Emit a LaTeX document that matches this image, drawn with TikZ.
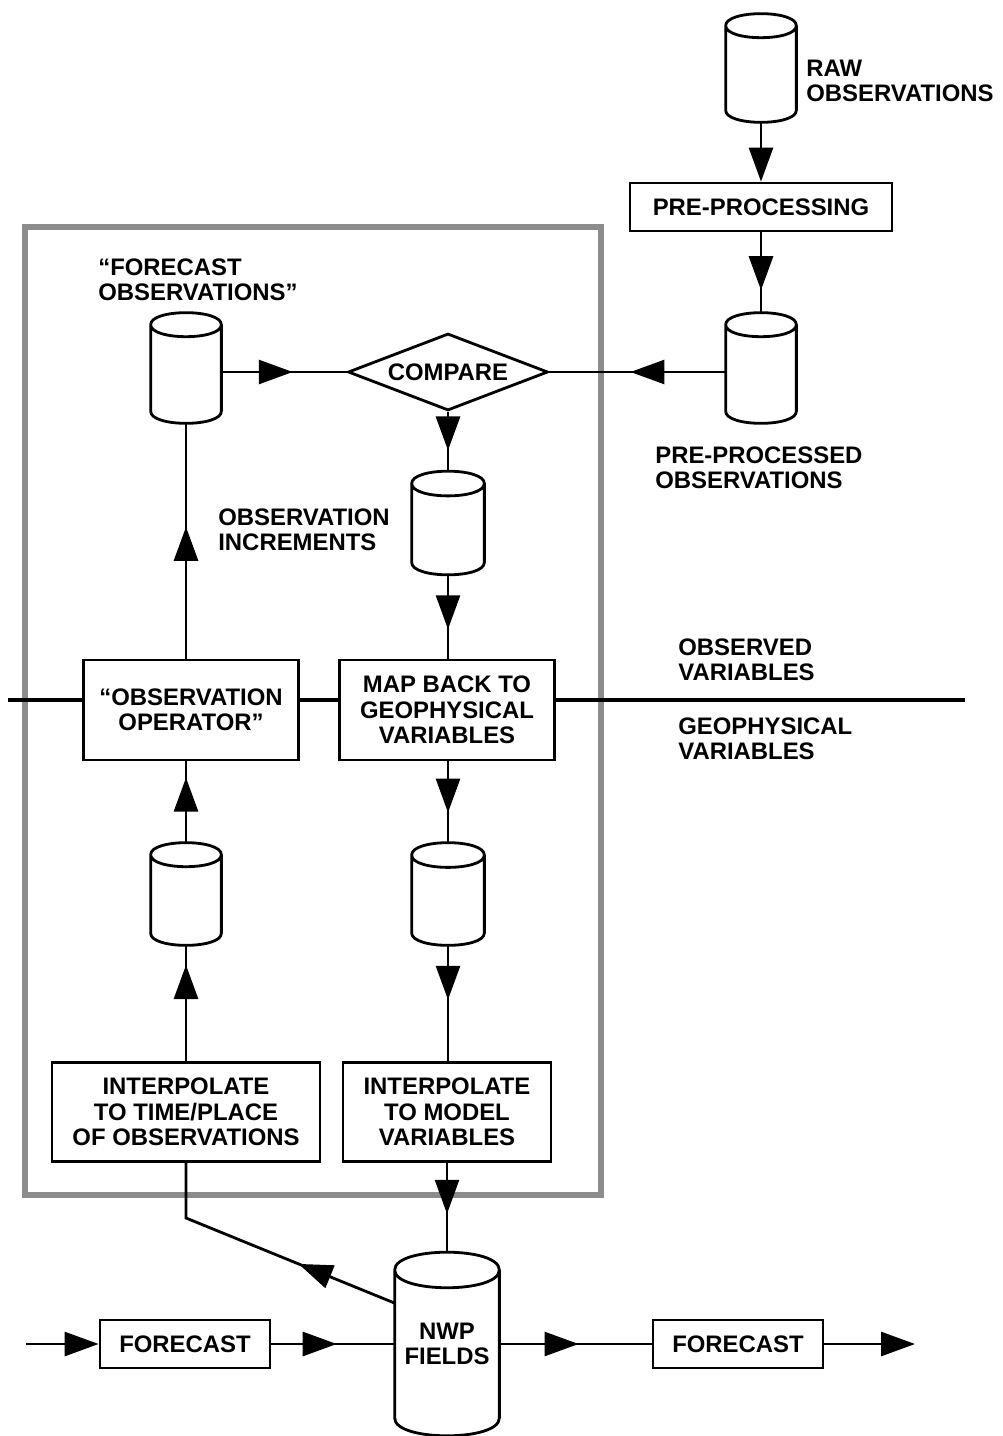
\documentclass[tikz,border=0pt]{standalone}
\usepackage{fontspec}
\setmainfont{Liberation Sans}
\usetikzlibrary{
  arrows.meta,
  calc,
  decorations.markings,
  shapes.geometric,
}
\tikzset{
  >={Triangle[length=0.68cm, width=0.48cm]},
  every node/.style={font=\bfseries\fontsize{13.6}{14.5}\selectfont},
  box/.style={draw, fill=white, line width=1.6pt, align=center, inner sep=0pt},
  store/.style={rectangle, align=center, inner sep=0pt},
  tag/.style={anchor=west, align=left, inner sep=0pt},
  flow/.style={line width=1.6pt},
  midarrow/.style={flow, postaction={decorate},
    decoration={markings, mark=at position #1 with {\arrow{>}}}},
}
% outline of a storage drum round a named store node
\newcommand\drum[1]{%
  \draw[flow, line join=round] let \p1=(#1.north west), \p2=(#1.south east),
      \n1={0.17*(\x2-\x1)} in
    (\x1,\y1-\n1) -- (\x1,\y2+\n1)
    .. controls (\x1,\y2-0.333*\n1) and (\x2,\y2-0.333*\n1) .. (\x2,\y2+\n1)
    -- (\x2,\y1-\n1)
    .. controls (\x2,\y1+0.333*\n1) and (\x1,\y1+0.333*\n1) .. (\x1,\y1-\n1)
    .. controls (\x1,\y1-2.333*\n1) and (\x2,\y1-2.333*\n1) .. (\x2,\y1-\n1);
}

\begin{document}
\begin{tikzpicture}[x=0.02cm, y=-0.02cm]
      \useasboundingbox (0,0) rectangle (1003,1436);
      % shaded frame and the observed / geophysical divide
      \draw[black!45, line width=0.12cm] (25,227) rectangle (601,1195);
      \coordinate (divl) at (8,700);
      \coordinate (divr) at (965,700);
      \draw[line width=2.8pt] (divl) -- (divr);

      % observation side
      \node[store, minimum width=1.4cm, minimum height=2.16cm] (raw) at (761,68) {};
      \node[tag] (rawtag) at (806,81) {RAW\\OBSERVATIONS};
      \node[box, minimum width=5.24cm, minimum height=0.96cm] (prep) at (761,207) {PRE-PROCESSING};
      \node[store, minimum width=1.4cm, minimum height=2.2cm] (ppobs) at (761,368) {};
      \node[tag] (pptag) at (655,468) {PRE-PROCESSED\\OBSERVATIONS};
      \node[diamond, draw, fill=white, line width=1.6pt, aspect=2.6, inner sep=0pt,
        minimum width=4cm, minimum height=1.54cm] (compare) at (448,372) {COMPARE};
      \node[store, minimum width=1.4cm, minimum height=2.2cm] (fcobs) at (186,368) {};
      \node[tag] (fctag) at (98,280) {“FORECAST\\OBSERVATIONS”};
      \node[store, minimum width=1.44cm, minimum height=2.06cm] (incr) at (448,523) {};
      \node[tag] (incrtag) at (218,530) {OBSERVATION\\INCREMENTS};

      % operators on the divide
      \node[box, minimum width=4.3cm, minimum height=2cm] (obsop) at (191,710) {“OBSERVATION\\OPERATOR”};
      \node[box, minimum width=4.3cm, minimum height=2cm] (mapback) at (447,710) {MAP BACK TO\\GEOPHYSICAL\\VARIABLES};
      \node[tag] (obstag) at (678,660) {OBSERVED\\VARIABLES};
      \node[tag] (geotag) at (678,739) {GEOPHYSICAL\\VARIABLES};

      % model side
      \node[store, minimum width=1.4cm, minimum height=2.04cm] (lcyl) at (186,894) {};
      \node[store, minimum width=1.44cm, minimum height=2.04cm] (rcyl) at (448,894) {};
      \node[box, minimum width=5.36cm, minimum height=1.98cm] (interptime) at (186,1112) {INTERPOLATE\\TO TIME/PLACE\\OF OBSERVATIONS};
      \node[box, minimum width=4.16cm, minimum height=1.98cm] (interpmodel) at (447,1112) {INTERPOLATE\\TO MODEL\\VARIABLES};
      \node[store, minimum width=2.08cm, minimum height=3.66cm] (nwp) at (447,1344) {NWP\\FIELDS};
      \node[box, minimum width=3.4cm, minimum height=0.96cm] (fc1) at (185,1344) {FORECAST};
      \node[box, minimum width=3.4cm, minimum height=0.96cm] (fc2) at (738,1344) {FORECAST};
      \coordinate (fin) at (26,1344);
      \coordinate (fout) at (915,1344);
      \coordinate (bend) at (186,1218);

      \foreach \s in {raw,ppobs,fcobs,incr,lcyl,rcyl,nwp}
      {
        \drum{\s}
      }

      % connectors
      \draw[flow, ->] (raw.south) -- (prep.north);
      \draw[midarrow=0.72] (prep.south) -- (ppobs.north);
      \draw[midarrow=0.54] (ppobs.west |- compare) -- (compare.east);
      \draw[midarrow=0.57] (fcobs.east |- compare) -- (compare.west);
      \draw[midarrow=0.65] (compare.south) -- (incr.north);
      \draw[midarrow=0.65] (incr.south) -- (mapback.north -| incr);
      \draw[midarrow=0.56] (obsop.north -| fcobs) -- (fcobs.south);
      \draw[midarrow=0.63] (mapback.south -| rcyl) -- (rcyl.north);
      \draw[midarrow=0.8] (lcyl.north) -- (obsop.south -| lcyl);
      \draw[midarrow=0.83] (interptime.north -| lcyl) -- (lcyl.south);
      \draw[midarrow=0.47] (rcyl.south) -- (interpmodel.north -| rcyl);
      \draw[midarrow=0.57] (interpmodel.south) -- (nwp.north);
      \draw[midarrow=0.37] (nwp.142) -- (bend) -- (interptime.south);
      \draw[flow, ->] (fin) -- (fc1.west);
      \draw[midarrow=0.53] (fc1.east) -- (nwp.west);
      \draw[midarrow=0.52] (nwp.east) -- (fc2.west);
      \draw[flow, ->] (fc2.east) -- (fout);
    \end{tikzpicture}
\end{document}
